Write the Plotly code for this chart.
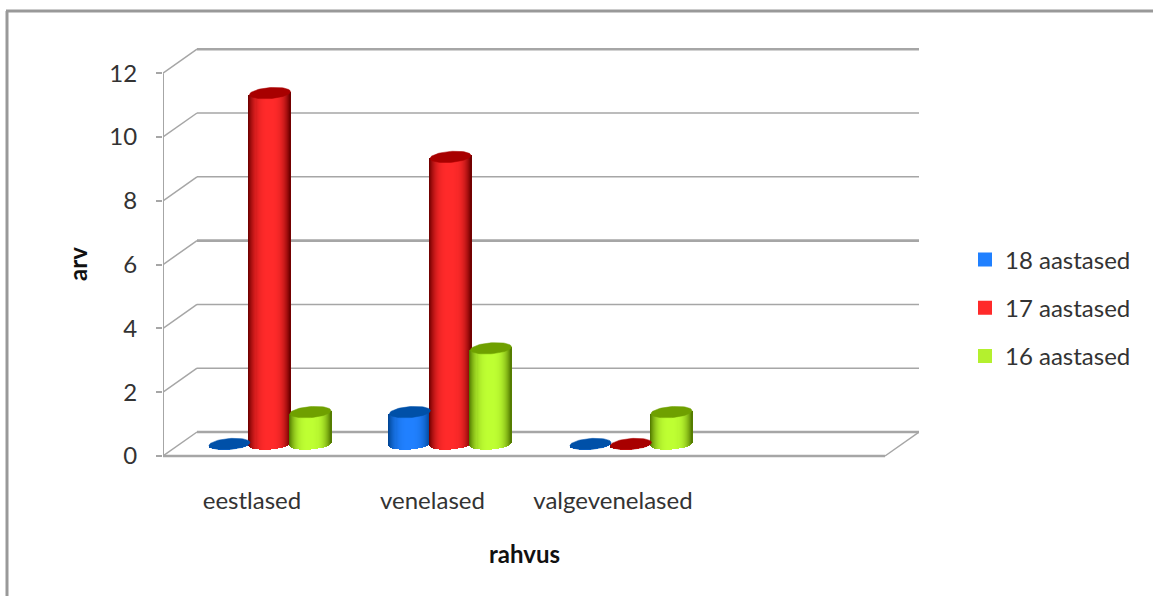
import numpy as np
import plotly.graph_objects as go

categories = ["eestlased", "venelased", "valgevenelased"]
series_names = ["18 aastased", "17 aastased", "16 aastased"]
values_18 = [0, 1, 0]
values_17 = [11, 9, 0]
values_16 = [1, 3, 1]
y_ticks = [0, 2, 4, 6, 8, 10, 12]

bright = [(32, 128, 255), (255, 42, 42), (190, 255, 50)]
dark = [(0, 70, 150), (115, 0, 0), (85, 125, 0)]
lid = ["#0050A8", "#A80000", "#6FA000"]
swatch = ["#2080FF", "#FF2A2A", "#B4F02E"]

W, H = 1153, 596
L, R, T, B = 163, 919, 48, 456
PAD = 3  # room so the outermost grid lines are not clipped
PX_X = 180.5
PX_Y = 31.9
XMIN, XMAX = (L - 270) / PX_X, (R - 270) / PX_X
YMAX = (B - T + PAD) / PX_Y
YMIN = -PAD / PX_Y
DX, DY = 34 / PX_X, 24 / PX_Y
N_CAT = 4
GROUP = 40.5 / PX_X
A = 20.5 / PX_X
BB = 5.5 / PX_Y
SHEAR = 1.5 / PX_Y
FLOOR = 12 / PX_Y
GRID = "#A6A6A6"
TEXT = "#333333"
FONT = "Lato, 'Open Sans', sans-serif"


def px(x):
    return (x - L) / (R - L)


def py(y):
    return (B + PAD - y) / (B - T + 2 * PAD)


def mix(c0, c1, f):
    return "rgb(%d,%d,%d)" % tuple(round(a + (b - a) * f) for a, b in zip(c0, c1))


fig = go.Figure()
shapes = []


def grid_line(x0, y0, x1, y1, width):
    shapes.append(dict(type="line", xref="x", yref="y", x0=x0, y0=y0, x1=x1, y1=y1,
                       layer="below", line=dict(color=GRID, width=width)))


for v in y_ticks:
    w = 2.6 if v in (0, 6, 12) else 1.5
    grid_line(XMIN + DX, v + DY, XMIN + DX + N_CAT, v + DY, w)
    grid_line(XMIN, v, XMIN + DX, v + DY, 1.5)
grid_line(XMIN, 0, XMIN + N_CAT, 0, 2.6)
grid_line(XMIN + N_CAT, 0, XMIN + N_CAT + DX, DY, 1.5)
grid_line(XMIN, 0, XMIN, y_ticks[-1], 2)

# outer chart frame (top and left edges)
shapes.append(dict(type="line", xref="paper", yref="paper", x0=px(7), x1=px(7), y0=py(H), y1=py(11),
                   line=dict(color="#999999", width=3)))
shapes.append(dict(type="line", xref="paper", yref="paper", x0=px(6), x1=px(W), y0=py(11), y1=py(11),
                   line=dict(color="#999999", width=3)))

all_values = [values_18, values_17, values_16]
ts = np.linspace(-1, 1, 41)
theta = np.linspace(0, 2 * np.pi, 61)

for s, vals in enumerate(all_values):
    xs, bases, heights, colors = [], [], [], []
    for c, v in enumerate(vals):
        xc = c + (s - 1) * GROUP
        for t in ts:
            xs.append(xc + t * A)
            off = SHEAR * t
            bottom = FLOOR - BB * np.sqrt(1 - t ** 2) + off
            top = v + FLOOR + off
            bases.append(bottom)
            heights.append(top - bottom)
            colors.append(mix(dark[s], bright[s], 1 - abs(t) ** 3))
    fig.add_trace(go.Bar(x=xs, y=heights, base=bases, width=1.4 / PX_X,
                         marker=dict(color=colors, line=dict(width=0)),
                         showlegend=False, hoverinfo="skip"))

for s, vals in enumerate(all_values):
    lx, ly = [], []
    for c, v in enumerate(vals):
        xc = c + (s - 1) * GROUP
        lx += list(xc + A * np.cos(theta)) + [None]
        ly += list(v + FLOOR + BB * np.sin(theta) + SHEAR * np.cos(theta)) + [None]
    fig.add_trace(go.Scatter(x=lx, y=ly, mode="lines", fill="toself", fillcolor=lid[s],
                             line=dict(color=lid[s], width=0.5),
                             showlegend=False, hoverinfo="skip"))

for s, name in enumerate(series_names):
    fig.add_trace(go.Scatter(x=[None], y=[None], mode="markers", name=name, legendgroup=name,
                             marker=dict(symbol="square", size=14, color=swatch[s])))

fig.update_layout(
    width=W, height=H, autosize=False,
    margin=dict(l=L, r=W - R, t=T - PAD, b=H - B - PAD),
    paper_bgcolor="white", plot_bgcolor="rgba(0,0,0,0)",
    barmode="overlay", bargap=0,
    shapes=shapes,
    font=dict(family=FONT, size=24, color=TEXT),
    xaxis=dict(range=[XMIN, XMAX], showgrid=False, zeroline=False, showline=False,
               tickmode="array", tickvals=[i - 0.1 for i in range(len(categories))],
               ticktext=categories, ticks="", ticklabelstandoff=25),
    yaxis=dict(range=[YMIN, YMAX], showgrid=False, zeroline=False, showline=False,
               tickmode="array", tickvals=y_ticks, ticktext=[str(v) for v in y_ticks],
               ticks="outside", ticklen=6, tickcolor=GRID, tickwidth=2, ticklabelstandoff=14),
    legend=dict(x=px(965), y=py(308), xanchor="left", yanchor="middle",
                tracegroupgap=14, bgcolor="rgba(0,0,0,0)"),
    annotations=[
        dict(text="<b>arv</b>", xref="paper", yref="paper", x=px(77), y=py(264), showarrow=False,
             xanchor="center", yanchor="middle", textangle=-90, font=dict(size=24, color="#111111")),
        dict(text="<b>rahvus</b>", xref="paper", yref="paper", x=px(524), y=py(553), showarrow=False,
             xanchor="center", yanchor="middle", font=dict(size=24, color="#111111")),
    ],
)

fig.write_html("out.html", post_script="document.body.style.margin='0';",
               config=dict(displayModeBar=False))
